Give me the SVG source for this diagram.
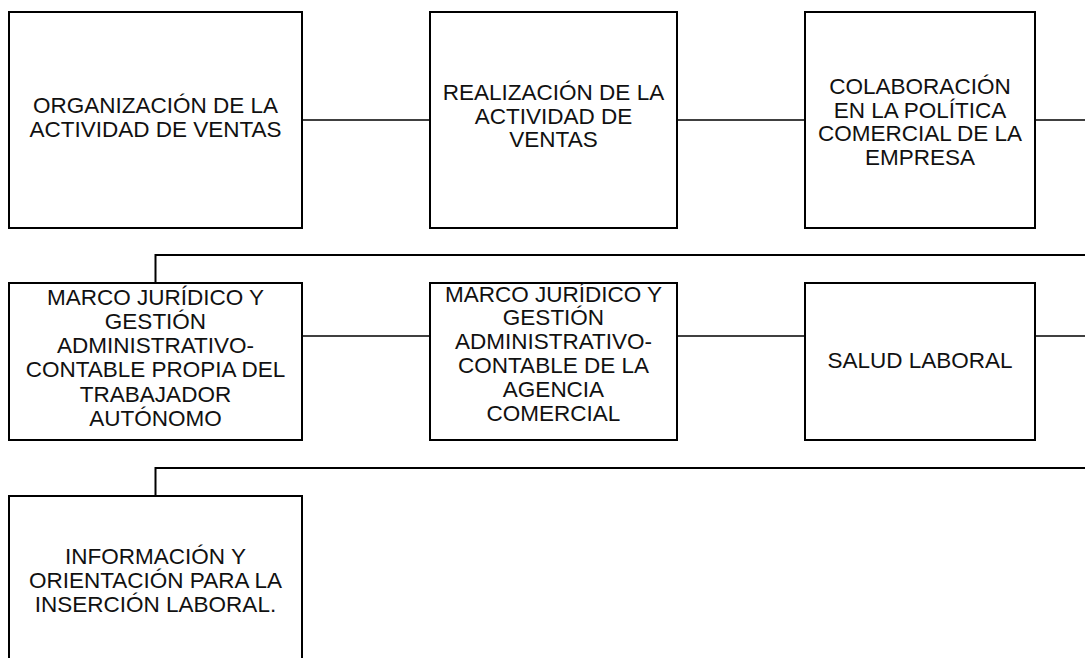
<svg xmlns="http://www.w3.org/2000/svg" width="1085" height="658" viewBox="0 0 1085 658">
<style>
.box{fill:#fff;stroke:#000;stroke-width:2}
.feed{fill:none;stroke:#000;stroke-width:2}
.link{fill:none;stroke:#000;stroke-width:1.3}
text{font-family:"Liberation Sans",Arial,sans-serif;font-size:22.5px;fill:#111;text-anchor:middle}
</style>
<rect width="1085" height="658" fill="#fff"/>
<g id="connectors">
<line class="link" x1="302" y1="120" x2="430" y2="120"/>
<line class="link" x1="677" y1="120" x2="805" y2="120"/>
<line class="link" x1="1035" y1="120" x2="1085" y2="120"/>
<polyline class="feed" points="155.5,283 155.5,255 1085,255"/>
<line class="link" x1="302" y1="336" x2="430" y2="336"/>
<line class="link" x1="677" y1="336" x2="805" y2="336"/>
<line class="link" x1="1035" y1="336" x2="1085" y2="336"/>
<polyline class="feed" points="155.5,496 155.5,468 1085,468"/>
</g>
<g id="n1">
<rect class="box" x="9" y="12" width="293" height="216"/>
<text x="155.5" y="113">ORGANIZACIÓN DE LA</text>
<text x="155.5" y="137">ACTIVIDAD DE VENTAS</text>
</g>
<g id="n2">
<rect class="box" x="430" y="12" width="247" height="216"/>
<text x="553.5" y="100">REALIZACIÓN DE LA</text>
<text x="553.5" y="123.5">ACTIVIDAD DE</text>
<text x="553.5" y="147">VENTAS</text>
</g>
<g id="n3">
<rect class="box" x="805" y="12" width="230" height="216"/>
<text x="920" y="94">COLABORACIÓN</text>
<text x="920" y="117.5">EN LA POLÍTICA</text>
<text x="920" y="141">COMERCIAL DE LA</text>
<text x="920" y="165">EMPRESA</text>
</g>
<g id="n4">
<rect class="box" x="9" y="283" width="293" height="157"/>
<text x="155.5" y="305">MARCO JURÍDICO Y</text>
<text x="155.5" y="329">GESTIÓN</text>
<text x="155.5" y="353">ADMINISTRATIVO-</text>
<text x="155.5" y="377">CONTABLE PROPIA DEL</text>
<text x="155.5" y="401.5">TRABAJADOR</text>
<text x="155.5" y="426">AUTÓNOMO</text>
</g>
<g id="n5">
<rect class="box" x="430" y="283" width="247" height="157"/>
<text x="553.5" y="302">MARCO JURÍDICO Y</text>
<text x="553.5" y="325">GESTIÓN</text>
<text x="553.5" y="348.5">ADMINISTRATIVO-</text>
<text x="553.5" y="372.5">CONTABLE DE LA</text>
<text x="553.5" y="396.5">AGENCIA</text>
<text x="553.5" y="420.5">COMERCIAL</text>
</g>
<g id="n6">
<rect class="box" x="805" y="283" width="230" height="157"/>
<text x="920" y="368">SALUD LABORAL</text>
</g>
<g id="n7">
<rect class="box" x="9" y="496" width="293" height="180"/>
<text x="155.5" y="563.5">INFORMACIÓN Y</text>
<text x="155.5" y="587.5">ORIENTACIÓN PARA LA</text>
<text x="155.5" y="611.5">INSERCIÓN LABORAL.</text>
</g>
</svg>
